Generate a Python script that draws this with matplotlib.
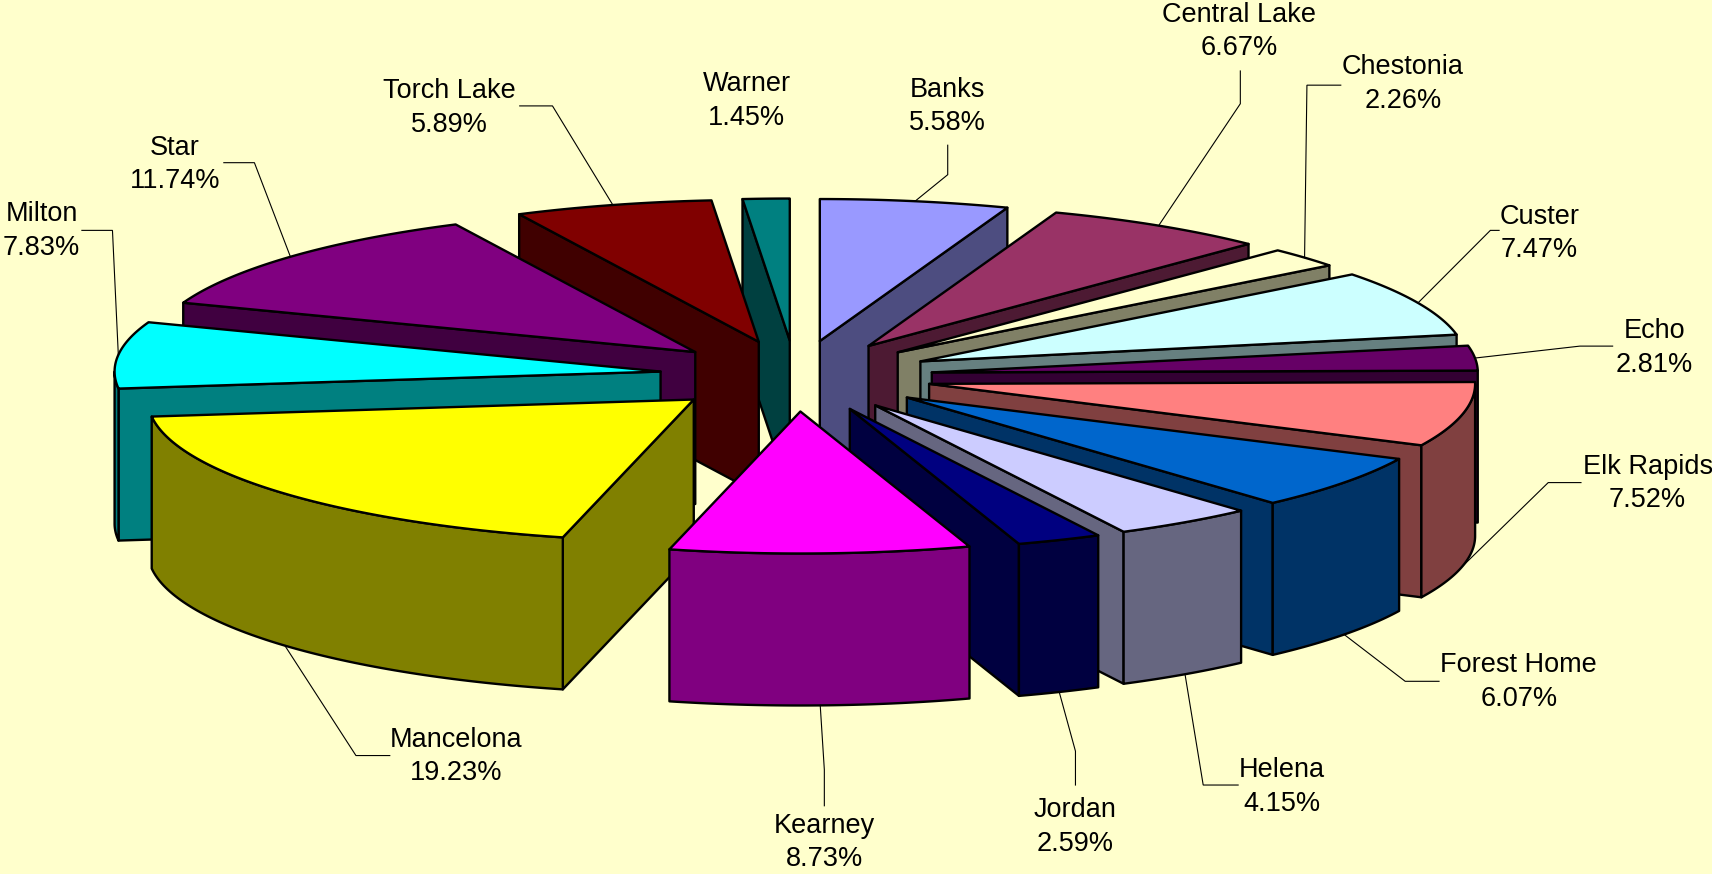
import numpy as np
import matplotlib
matplotlib.use("Agg")
import matplotlib.pyplot as plt
from matplotlib.patches import Polygon

names = ["Banks", "Central Lake", "Chestonia", "Custer", "Echo", "Elk Rapids", "Forest Home",
         "Helena", "Jordan", "Kearney", "Mancelona", "Milton", "Star", "Torch Lake", "Warner"]
values = [5.58, 6.67, 2.26, 7.47, 2.81, 7.52, 6.07, 4.15, 2.59, 8.73, 19.23, 7.83, 11.74, 5.89, 1.45]
colors = ["#9999FF", "#993366", "#FFFFCC", "#CCFFFF", "#660066", "#FF8080", "#0066CC", "#CCCCFF",
          "#000080", "#FF00FF", "#FFFF00", "#00FFFF", "#800080", "#800000", "#008080"]
sides = ["#4D4D80", "#4D1A33", "#808066", "#668080", "#330033", "#804040", "#003366", "#666680",
         "#000040", "#800080", "#808000", "#008080", "#400040", "#400000", "#004040"]

# layout (full-size pixel space)
CX, CY = 796.0, 376.0
RX, RY = 546.0, 142.0
DEPTH = 152.0
EXPLODE = 0.25
S = 1712 / 1568
# small projection correction of the 3-D view (degrees, by angle round the pie)
warp_at = [0, 90, 116, 138, 153, 162, 194, 263, 291, 333, 355, 360]
warp_by = [0, 0, -0.7, -0.26, -0.18, -0.5, 0, 0, -1.0, 0.4, 0.25, 0]
label_xy = [(868, 96), (1135, 27), (1285, 75), (1410, 212), (1515, 317), (1509, 441), (1391, 623),
            (1174, 719), (985, 756), (755, 770), (418, 691), (38, 210), (160, 149), (412, 97), (684, 91)]
text_dy = 1.7
elbows = [[(868, 160), (868, 133)], [(1136, 95), (1136, 65)], [(1197, 78), (1228, 78)],
          [(1365, 211), (1373, 211)], [(1447, 317), (1477, 317)], [(1418, 442), (1448, 442)],
          [(1287, 624), (1318, 624)], [(1102, 719), (1134, 719)], [(985, 688), (985, 719)],
          [(755, 705), (755, 738)], [(326, 692), (357, 692)], [(103, 211), (75, 211)],
          [(233, 149), (205, 149)], [(506, 97), (476, 97)], None]

plt.rcParams["font.family"] = ["Liberation Sans", "DejaVu Sans"]
fig = plt.figure(figsize=(17.12, 8.74), dpi=100, facecolor="#FFFFCC")
ax = fig.add_axes([0, 0, 1, 1])
ax.set_xlim(0, 1712)
ax.set_ylim(874, 0)
ax.axis("off")

vals = np.array(values)
raw = np.degrees(np.concatenate([[0], np.cumsum(vals)]) / vals.sum() * 2 * np.pi)
edges = np.radians(raw + np.interp(raw, warp_at, warp_by))
raw_mids = np.radians((raw[:-1] + raw[1:]) / 2)
mids = (edges[:-1] + edges[1:]) / 2
tip_shift = np.interp(np.degrees(raw_mids), [103, 127, 147, 158, 178], [0, 2.2, 2.2, 2.2, 0])
tips = np.column_stack([CX + EXPLODE * RX * np.sin(raw_mids) + tip_shift,
                        CY - EXPLODE * RY * np.cos(raw_mids)])


def rim(tip, t):
    return np.column_stack([tip[0] + RX * np.sin(t), tip[1] - RY * np.cos(t)])


def poly(pts, fc, z):
    ax.add_patch(Polygon(pts, closed=True, facecolor=fc, edgecolor="black", linewidth=1.7,
                         joinstyle="round", zorder=z))


down = np.array([0, DEPTH])
order = np.argsort(tips[:, 1], kind="stable")
z = 2.0
for i in order:
    t0, t1 = edges[i], edges[i + 1]
    tip = tips[i]
    if np.sin(t0) < 0:
        e = rim(tip, np.array([t0]))[0]
        poly([tip, e, e + down, tip + down], sides[i], z); z += 0.01
    if np.sin(t1) > 0:
        e = rim(tip, np.array([t1]))[0]
        poly([tip, e, e + down, tip + down], sides[i], z); z += 0.01
    a, b = max(t0, np.pi / 2), min(t1, 3 * np.pi / 2)
    if b > a:
        arc = rim(tip, np.linspace(a, b, 80))
        poly(np.vstack([arc, arc[::-1] + down]), sides[i], z); z += 0.01
    arc = rim(tip, np.linspace(t0, t1, 120))
    poly(np.vstack([[tip], arc]), colors[i], z); z += 0.01

for i, name in enumerate(names):
    x, y = label_xy[i]
    ax.text(x * S, (y + text_dy) * S, f"{name}\n{values[i]:.2f}%", ha="center", va="center", fontsize=19.5,
            color="black", linespacing=1.38, zorder=10)
    if elbows[i] is not None:
        start = rim(tips[i], np.array([mids[i]]))[0]
        if np.cos(mids[i]) < 0:
            start = start + down
        pts = np.vstack([[start], np.array(elbows[i]) * S])
        ax.plot(pts[:, 0], pts[:, 1], color="black", lw=0.8, zorder=9, solid_joinstyle="miter")

fig.savefig("out.png", dpi=100, facecolor=fig.get_facecolor())
